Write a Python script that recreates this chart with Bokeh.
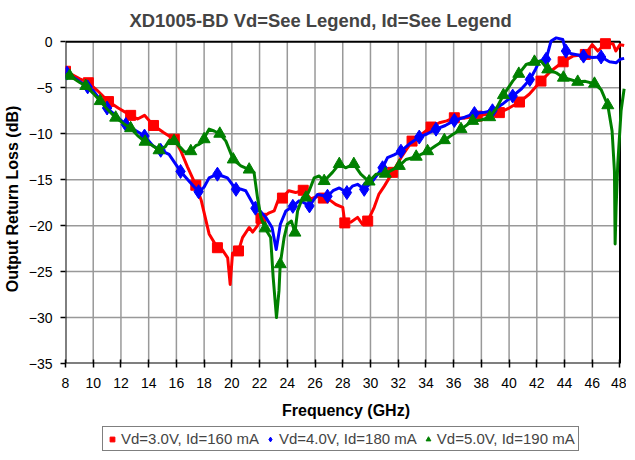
from bokeh.plotting import figure
from bokeh.models import Range1d, FixedTicker, Legend, LegendItem, Spacer
from bokeh.layouts import column
from bokeh.embed import file_html
from bokeh.resources import INLINE

# ---------------- data ----------------
x_ticks = list(range(8, 49, 2))
y_ticks = list(range(-35, 1, 5))
X_MIN, X_MAX = 8, 48
Y_MIN, Y_MAX = -35, 0

red_f = [8.0, 8.5, 9.0, 9.65, 10.3, 11.1, 11.8, 12.7, 13.2, 13.7, 14.35, 15.1, 15.85, 16.3, 16.8,
         17.4, 17.8, 18.36, 18.96, 19.3, 19.7, 19.88, 20.05, 20.48, 20.77, 21.25, 21.5, 21.85, 22.1,
         22.7, 23.05, 23.4, 23.65, 24.1, 24.6, 25.15, 25.7, 26.2, 26.6, 27.15, 27.5, 28.0, 28.15,
         28.6, 29.07, 29.43, 29.8, 30.27, 30.6, 31.0, 31.6, 32.2, 33.0, 33.65, 34.37, 34.97, 35.5,
         36.05, 36.8, 37.7, 38.3, 38.8, 39.3, 40.0, 40.75, 41.45, 42.3, 43.0, 43.9, 44.6, 45.5,
         46.0, 46.4, 46.95, 47.5, 47.7, 48.0, 48.3]
red_db = [-3.2, -3.6, -4.0, -4.45, -5.3, -6.5, -7.2, -8.0, -8.4, -8.0, -9.1, -9.9, -10.6, -11.8, -13.6,
          -15.6, -17.3, -20.9, -22.4, -22.6, -23.5, -26.4, -23.0, -22.75, -21.3, -20.2, -20.7, -20.0, -19.2,
          -18.6, -18.4, -17.0, -17.0, -16.2, -16.4, -16.15, -17.1, -16.8, -17.0, -17.3, -17.7, -18.0, -19.7,
          -19.6, -19.1, -19.85, -19.5, -18.0, -16.6, -15.7, -14.2, -12.6, -10.8, -10.1, -9.27, -8.8, -8.6,
          -8.26, -8.3, -8.08, -7.9, -7.9, -7.7, -7.2, -6.55, -5.7, -4.27, -3.2, -2.17, -1.55, -1.37,
          -0.3, -1.0, -0.2, -0.2, -1.0, -0.3, -0.4]
red_mk_f = [8.0, 9.65, 11.1, 12.7, 14.35, 15.85, 17.4, 18.96, 20.48, 22.1, 23.65, 25.15, 26.6, 28.15,
            29.8, 31.6, 33.0, 34.37, 36.05, 37.7, 39.3, 40.75, 42.3, 43.9, 45.5, 46.95]
red_mk_db = [-3.2, -4.45, -6.5, -8.0, -9.1, -10.6, -15.6, -22.4, -22.75, -19.2, -17.0, -16.15, -17.0, -19.7,
             -19.5, -14.2, -10.8, -9.27, -8.26, -8.08, -7.7, -6.55, -4.27, -2.17, -1.37, -0.2]

blue_f = [8.0, 8.5, 9.0, 9.6, 10.0, 10.5, 11.0, 11.7, 12.35, 13.0, 13.7, 14.3, 14.87, 15.47, 16.3,
          17.0, 17.6, 18.0, 18.36, 18.96, 19.3, 19.68, 20.3, 20.6, 21.0, 21.7, 22.1, 22.45, 22.9, 23.2,
          23.5, 23.9, 24.4, 24.85, 25.2, 25.6, 26.18, 26.9, 27.3, 27.75, 28.3, 28.7, 29.07, 29.55,
          30.15, 30.87, 31.23, 31.7, 32.2, 32.9, 33.52, 34.1, 34.73, 35.4, 36.05, 36.8, 37.5, 38.1,
          38.8, 39.5, 40.26, 40.9, 41.5, 41.9, 42.19, 42.67, 43.03, 43.4, 43.87, 44.1, 44.5, 45.37,
          46.0, 46.64, 47.24, 47.72, 48.0, 48.3]
blue_db = [-3.3, -3.8, -4.3, -4.9, -5.3, -6.3, -7.2, -8.1, -9.0, -9.6, -10.25, -11.3, -11.8, -12.25, -14.1,
           -15.3, -16.3, -15.8, -14.8, -14.4, -14.6, -14.8, -16.05, -16.0, -16.2, -18.1, -18.5, -19.1, -20.2, -22.6,
           -19.85, -18.4, -17.9, -17.3, -17.5, -17.85, -16.6, -16.8, -16.2, -15.9, -16.4, -15.7, -15.5, -16.05,
           -15.15, -13.7, -12.6, -12.3, -11.9, -11.0, -10.36, -10.0, -9.5, -9.1, -8.55, -8.2, -7.8, -7.7,
           -7.5, -6.8, -5.9, -5.1, -4.1, -3.0, -2.1, -1.9, 0.1, 0.43, 0.26, -1.0, -1.3, -1.55,
           -1.7, -1.65, -2.17, -2.28, -1.9, -1.8]
blue_mk_f = [8.1, 9.6, 11.0, 12.35, 13.7, 14.87, 16.3, 17.6, 18.96, 20.3, 21.7, 24.4, 25.6, 26.9, 28.3,
             29.55, 30.87, 32.2, 33.52, 34.73, 36.05, 37.5, 38.8, 40.26, 41.5, 42.67, 44.1, 45.37, 46.64]
blue_mk_db = [-3.4, -4.9, -7.2, -9.0, -10.25, -11.8, -14.1, -16.3, -14.4, -16.05, -18.1, -17.9, -17.85, -16.8,
              -16.4, -16.05, -13.7, -11.9, -10.36, -9.5, -8.55, -7.8, -7.5, -5.9, -4.1, -1.9, -1.0, -1.55, -1.65]

green_f = [8.0, 8.3, 9.0, 9.46, 10.0, 10.5, 11.0, 11.62, 12.2, 12.7, 13.2, 13.74, 14.3, 14.75, 15.2,
           15.5, 15.83, 16.3, 16.6, 17.04, 17.4, 17.64, 17.9, 18.1, 18.36, 18.72, 19.13, 19.57, 20.1,
           20.65, 21.25, 21.6, 21.85, 22.1, 22.4, 22.8, 22.98, 23.22, 23.4, 23.49, 23.77, 24.0, 24.3,
           24.55, 24.74, 25.1, 25.34, 25.58, 25.94, 26.3, 26.66, 27.26, 27.75, 28.2, 28.8, 29.3, 29.9,
           30.4, 31.07, 31.6, 32.08, 32.56, 33.3, 34.12, 34.7, 35.33, 35.9, 36.53, 37.37, 38.0, 38.6,
           39.1, 39.59, 40.26, 40.7, 41.23, 41.83, 42.3, 42.79, 43.4, 43.92, 44.4, 44.95, 45.5, 46.16,
           46.64, 47.12, 47.43, 47.6, 47.65, 47.72, 47.84, 48.08, 48.3]
green_db = [-3.5, -3.7, -4.4, -4.8, -5.6, -6.45, -7.3, -8.25, -8.9, -9.4, -10.2, -10.87, -11.3, -11.8, -11.4,
            -10.7, -10.8, -11.5, -12.0, -11.9, -11.3, -11.15, -10.9, -10.2, -9.5, -9.7, -10.0, -10.8, -12.8,
            -13.5, -13.9, -14.2, -16.95, -19.1, -20.3, -21.3, -25.6, -30.0, -27.1, -24.2, -21.3, -19.85, -19.5,
            -20.76, -18.4, -16.95, -16.95, -16.2, -14.8, -14.6, -15.15, -14.2, -13.3, -13.7, -13.3, -14.4, -15.2,
            -14.4, -14.35, -13.9, -13.5, -12.8, -12.5, -11.9, -11.3, -10.7, -10.1, -9.5, -8.6, -8.5, -8.2,
            -7.2, -5.8, -4.27, -3.48, -2.46, -2.17, -2.1, -3.0, -3.37, -3.9, -4.1, -4.35, -4.3, -4.56,
            -5.2, -6.9, -9.7, -14.05, -22.0, -18.0, -13.3, -7.5, -5.1]
green_mk_f = [8.3, 9.46, 10.5, 11.62, 12.7, 13.74, 14.75, 15.83, 17.04, 18.0, 19.13, 20.1, 21.25, 22.4,
              23.49, 24.55, 25.34, 26.66, 27.75, 28.8, 29.9, 31.07, 32.08, 33.3, 34.12, 35.33, 36.53,
              37.37, 38.6, 39.59, 40.7, 41.83, 42.79, 43.92, 44.95, 46.16, 47.12]
green_mk_db = [-3.7, -4.8, -6.45, -8.25, -9.4, -10.87, -11.8, -10.8, -11.9, -10.6, -10.0, -12.8, -13.9, -20.3,
               -24.2, -20.76, -16.95, -15.15, -13.3, -13.3, -15.2, -14.35, -13.5, -12.5, -11.9, -10.7, -9.5,
               -8.6, -8.2, -5.8, -3.48, -2.17, -3.0, -3.9, -4.35, -4.56, -6.9]

labels = ["Vd=3.0V, Id=160 mA", "Vd=4.0V, Id=180 mA", "Vd=5.0V, Id=190 mA"]
colors = ["#ff0000", "#0000ff", "#008000"]
markers = ["square", "diamond", "triangle"]
marker_sizes = [10, 14, 12]

# ---------------- main figure ----------------
FONT = "Liberation Sans"
p = figure(frame_width=561, frame_height=329, output_backend="svg", toolbar_location=None,
           x_range=Range1d(8, 48.47), y_range=Range1d(-35, 0.8),
           min_border_left=58, min_border_right=0, min_border_top=0, min_border_bottom=0,
           title="XD1005-BD Vd=See Legend, Id=See Legend")
p.outline_line_color = None
p.background_fill_color = "white"
p.border_fill_color = "white"

p.title.text_font = FONT
p.title.text_font_size = "18.4px"
p.title.text_font_style = "bold"
p.title.align = "left"
p.title.offset = 64
p.title.standoff = 7

p.xgrid.visible = False
p.ygrid.visible = False

# gridlines
gx = [t for t in x_ticks if X_MIN < t < X_MAX]
p.segment(x0=gx, y0=[Y_MIN] * len(gx), x1=gx, y1=[Y_MAX] * len(gx), line_color="#999999", line_width=1.5)
gy = [t for t in y_ticks if Y_MIN < t < Y_MAX]
p.segment(x0=[X_MIN] * len(gy), y0=gy, x1=[X_MAX] * len(gy), y1=gy, line_color="#999999", line_width=1.5)
# plot border
p.quad(left=[X_MIN], right=[X_MAX], bottom=[Y_MIN], top=[Y_MAX], fill_color=None,
       line_color="black", line_width=2)

# axes
p.xaxis.ticker = FixedTicker(ticks=x_ticks)
p.yaxis.ticker = FixedTicker(ticks=y_ticks)
for ax in (p.xaxis[0], p.yaxis[0]):
    ax.axis_line_color = None
    ax.major_tick_line_color = "black"
    ax.major_tick_line_width = 1.5
    ax.minor_tick_line_color = None
    ax.major_label_text_font = FONT
    ax.major_label_text_font_size = "14px"
    ax.major_label_text_color = "black"
    ax.axis_label_text_font = FONT
    ax.axis_label_text_font_size = "16px"
    ax.axis_label_text_font_style = "bold"
    ax.axis_label_text_color = "black"
p.xaxis.axis_label = "Frequency (GHz)"
p.yaxis.axis_label = "Output Return Loss (dB)"
p.xaxis.major_tick_in = 4
p.xaxis.major_tick_out = 4
p.xaxis.major_label_standoff = 10
p.xaxis.axis_label_standoff = 11
p.yaxis.major_tick_in = 0
p.yaxis.major_tick_out = 5
p.yaxis.major_label_standoff = 8
p.yaxis.axis_label_standoff = 5

series = [
    (red_f, red_db, red_mk_f, red_mk_db),
    (blue_f, blue_db, blue_mk_f, blue_mk_db),
    (green_f, green_db, green_mk_f, green_mk_db),
]
for (f, db, mf, mdb), col, mk, sz in zip(series, colors, markers, marker_sizes):
    p.line(f, db, line_color=col, line_width=3, line_join="round")
    p.scatter(mf, mdb, marker=mk, size=sz, fill_color=col, line_color=col)

# ---------------- legend strip (legend only; its renderers sit outside its view) ----------------
lg = figure(width=619, height=30, output_backend="svg", toolbar_location=None,
            x_axis_location=None, y_axis_location=None,
            min_border_left=0, min_border_right=0, min_border_top=0, min_border_bottom=0,
            x_range=Range1d(100, 101), y_range=Range1d(100, 101))
lg.outline_line_color = None
lg.xgrid.visible = False
lg.ygrid.visible = False
items = []
for (f, db, mf, mdb), col, mk, sz, lab in zip(series, colors, markers, marker_sizes, labels):
    r = lg.scatter(mf[:1], mdb[:1], marker=mk, size=sz - 1, fill_color=col, line_color=col)
    items.append(LegendItem(label=lab, renderers=[r], index=0))
legend = Legend(items=items, orientation="horizontal", location=(37, 0),
                label_text_font=FONT, label_text_font_size="15px",
                glyph_width=12, glyph_height=14, label_height=14, label_standoff=3, spacing=5,
                padding=3, margin=0, border_line_color="black", border_line_width=1.2,
                background_fill_color="white", background_fill_alpha=1)
lg.add_layout(legend, "center")

layout = column(Spacer(width=619, height=4), p, lg, spacing=0)
open("out.html", "w").write(file_html(layout, INLINE))
